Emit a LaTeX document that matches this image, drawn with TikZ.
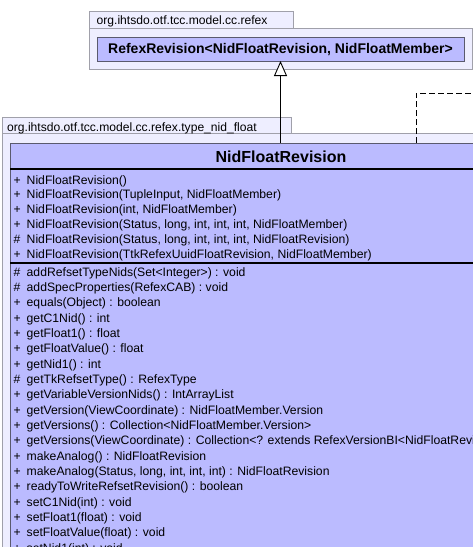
\documentclass[tikz,border=0pt]{standalone}
\usepackage{fontspec}
\setmainfont{Liberation Sans}
\usetikzlibrary{arrows.meta}
\definecolor{pkgfill}{RGB}{238,238,255}
\definecolor{pkgline}{RGB}{160,160,170}
\definecolor{clsfill}{RGB}{187,187,255}
\definecolor{clsline}{RGB}{90,90,110}
\begin{document}
\begin{tikzpicture}[x=1pt,y=-1pt,
  pkg/.style={draw=pkgline, fill=pkgfill, line width=0.8pt, inner sep=0pt, outer sep=0pt, anchor=north west},
  cls/.style={draw=clsline, fill=clsfill, line width=0.9pt, inner sep=0pt, outer sep=0pt, anchor=north west},
  pkglabel/.style={font=\fontsize{12.1}{14}\selectfont, inner sep=0pt, anchor=base west},
  row/.style={font=\fontsize{12.2}{14}\selectfont, inner sep=0pt, anchor=base west},
  sepline/.style={draw=black, line width=1.1pt},
  inherit/.style={draw=black, line width=0.9pt, -{Triangle[fill=white, length=15pt, width=13pt]}},
  depend/.style={draw=black, line width=0.9pt, dash pattern=on 6pt off 3pt}]
\useasboundingbox (0,0) rectangle (473,547);
\clip (0,0) rectangle (473,547);
% upper package
\node[pkg, minimum width=204pt, minimum height=17pt] (ptab1) at (89,11) {};
\node[pkg, minimum width=383pt, minimum height=41pt] (pbody1) at (89,28) {};
\node[pkglabel] (plab1) at (96.5,24) {org.ihtsdo.otf.tcc.model.cc.refex};
\node[cls, minimum width=367pt, minimum height=24pt] (refex) at (97,37) {};
\node[font=\bfseries\fontsize{14}{16}\selectfont, inner sep=0pt, anchor=base] (refexname) at (280.5,53.5) {RefexRevision<NidFloatRevision, NidFloatMember>};
% lower package
\node[pkg, minimum width=289pt, minimum height=16pt] (ptab2) at (2,117) {};
\node[pkg, minimum width=540pt, minimum height=460pt] (pbody2) at (2,133) {};
\node[pkglabel] (plab2) at (7,131) {org.ihtsdo.otf.tcc.model.cc.refex.type\_nid\_float};
\node[cls, minimum width=542pt, minimum height=460pt] (nfr) at (10,143) {};
\node[font=\bfseries\fontsize{16}{19}\selectfont, inner sep=0pt, anchor=base] (nfrname) at (281,162.5) {NidFloatRevision};
\draw[sepline] (nfr.north west) ++(0,26) -- ++(542,0);
\draw[sepline] (nfr.north west) ++(0,120) -- ++(542,0);
% constructors
\foreach \sy/\tx [count=\i] in {
  +/{NidFloatRevision()},
  +/{NidFloatRevision(TupleInput, NidFloatMember)},
  +/{NidFloatRevision(int, NidFloatMember)},
  +/{NidFloatRevision(Status, long, int, int, int, NidFloatMember)},
  \#/{NidFloatRevision(Status, long, int, int, int, NidFloatRevision)},
  +/{NidFloatRevision(TtkRefexUuidFloatRevision, NidFloatMember)}}{
  \pgfmathsetmacro{\yy}{184+(\i-1)*14.9}
  \node[row] (cs\i) at (13.5,\yy) {\sy};
  \node[row] (c\i) at (26.5,\yy) {\tx};
}
% methods
\foreach \sy/\tx [count=\i] in {
  \#/{addRefsetTypeNids(Set<Integer>) : void},
  \#/{addSpecProperties(RefexCAB) : void},
  +/{equals(Object) : boolean},
  +/{getC1Nid() : int},
  +/{getFloat1() : float},
  +/{getFloatValue() : float},
  +/{getNid1() : int},
  \#/{getTkRefsetType() : RefexType},
  +/{getVariableVersionNids() : IntArrayList},
  +/{getVersion(ViewCoordinate) : NidFloatMember.Version},
  +/{getVersions() : Collection<NidFloatMember.Version>},
  +/{getVersions(ViewCoordinate) : Collection<? extends RefexVersionBI<NidFloatRevision>>},
  +/{makeAnalog() : NidFloatRevision},
  +/{makeAnalog(Status, long, int, int, int) : NidFloatRevision},
  +/{readyToWriteRefsetRevision() : boolean},
  +/{setC1Nid(int) : void},
  +/{setFloat1(float) : void},
  +/{setFloatValue(float) : void},
  +/{setNid1(int) : void}}{
  \pgfmathsetmacro{\yy}{276+(\i-1)*15.35}
  \node[row] (ms\i) at (13.5,\yy) {\sy};
  \node[row] (m\i) at (26.5,\yy) {\tx};
}
% connectors
\draw[inherit] (refex.south |- nfr.north) -- (refex.south);
\coordinate (dcorner) at (416,93);
\coordinate (dend) at (480,93);
\draw[depend] (dcorner |- nfr.north) -- (dcorner) -- (dend);
\end{tikzpicture}
\end{document}
